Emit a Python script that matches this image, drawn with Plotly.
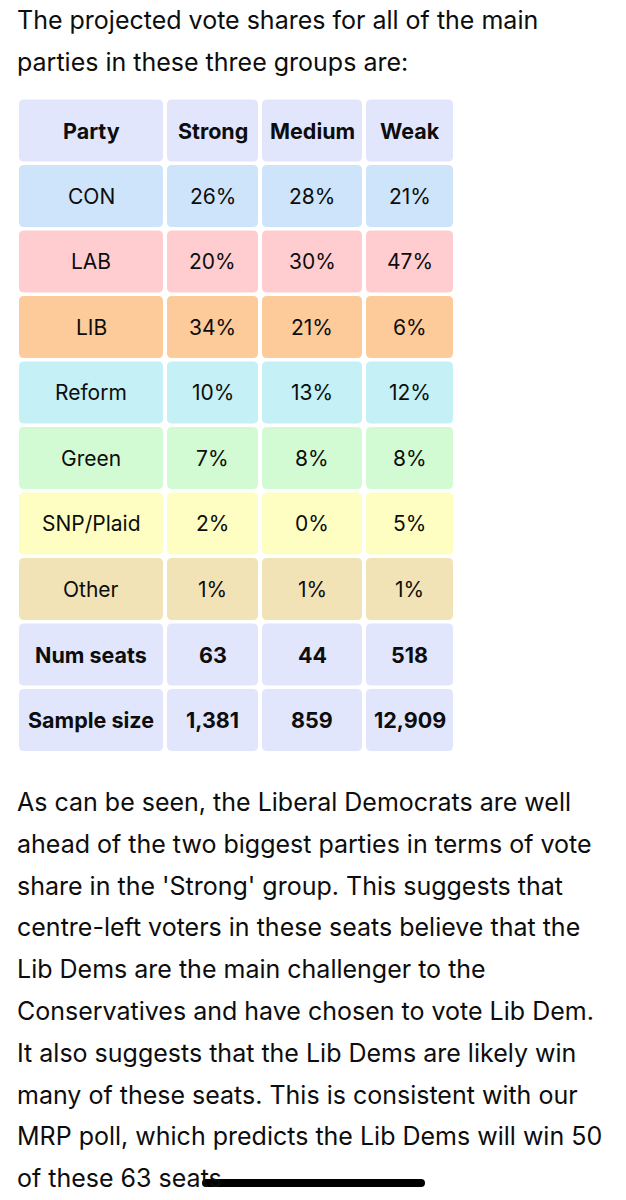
import plotly.graph_objects as go

# table content
header = ["Party", "Strong", "Medium", "Weak"]
parties = ["CON", "LAB", "LIB", "Reform", "Green", "SNP/Plaid", "Other"]
strong = ["26%", "20%", "34%", "10%", "7%", "2%", "1%"]
medium = ["28%", "30%", "21%", "13%", "8%", "0%", "1%"]
weak = ["21%", "47%", "6%", "12%", "8%", "5%", "1%"]
num_seats = ["Num seats", "63", "44", "518"]
sample_size = ["Sample size", "1,381", "859", "12,909"]
party_colors = ["#cde4fb", "#ffcdcf", "#fdca9a", "#c4f0f6", "#d3fbd3", "#fefec3", "#f2e3b6"]
header_color = "#e1e6fc"

intro_lines = [
    "The projected vote shares for all of the main",
    "parties in these three groups are:",
]
body_lines = [
    "As can be seen, the Liberal Democrats are well",
    "ahead of the two biggest parties in terms of vote",
    "share in the 'Strong' group. This suggests that",
    "centre-left voters in these seats believe that the",
    "Lib Dems are the main challenger to the",
    "Conservatives and have chosen to vote Lib Dem.",
    "It also suggests that the Lib Dems are likely win",
    "many of these seats. This is consistent with our",
    "MRP poll, which predicts the Lib Dems will win 50",
    "of these 63 seats",
]

FONT = "Inter"
W, H = 626, 1200
col_x = [(19, 163), (167, 258), (262, 362), (366, 453)]
row_top, row_pitch, row_h = 99.5, 65.5, 62


def rounded_rect(x0, y0, x1, y1, r=5):
    return (f"M{x0 + r},{y0} L{x1 - r},{y0} Q{x1},{y0} {x1},{y0 + r} "
            f"L{x1},{y1 - r} Q{x1},{y1} {x1 - r},{y1} L{x0 + r},{y1} "
            f"Q{x0},{y1} {x0},{y1 - r} L{x0},{y0 + r} Q{x0},{y0} {x0 + r},{y0} Z")


rows = [(header, header_color, True)]
for i, p in enumerate(parties):
    rows.append(([p, strong[i], medium[i], weak[i]], party_colors[i], False))
rows.append((num_seats, header_color, True))
rows.append((sample_size, header_color, True))

shapes, annotations = [], []
for r, (cells, color, bold) in enumerate(rows):
    y0 = row_top + r * row_pitch
    y1 = y0 + row_h
    for c, txt in enumerate(cells):
        x0, x1 = col_x[c]
        shapes.append(dict(type="path", path=rounded_rect(x0, y0, x1, y1),
                           fillcolor=color, line=dict(width=0), layer="below"))
        annotations.append(dict(
            x=(x0 + x1) / 2, y=(y0 + y1) / 2, text=f"<b>{txt}</b>" if bold else txt,
            showarrow=False, xanchor="center", yanchor="middle",
            font=dict(family=FONT, size=21.5 if bold else 21, color="#0d0d0d"),
        ))

for i, line in enumerate(intro_lines):
    annotations.append(dict(x=15, y=20 + i * 42, text=line, showarrow=False,
                            xanchor="left", yanchor="middle",
                            font=dict(family=FONT, size=25, color="#0d0d0d")))
for i, line in enumerate(body_lines):
    annotations.append(dict(x=15, y=802 + i * 41.8, text=line, showarrow=False,
                            xanchor="left", yanchor="middle",
                            font=dict(family=FONT, size=25, color="#0d0d0d")))

# home indicator bar
shapes.append(dict(type="path", path=rounded_rect(202, 1179, 425, 1187, r=4),
                   fillcolor="#000000", line=dict(width=0), layer="above"))

fig = go.Figure()
fig.update_layout(
    width=W, height=H, margin=dict(l=0, r=0, t=0, b=0),
    paper_bgcolor="white", plot_bgcolor="white",
    xaxis=dict(range=[0, W], visible=False, fixedrange=True),
    yaxis=dict(range=[H, 0], visible=False, fixedrange=True),
    shapes=shapes, annotations=annotations, showlegend=False,
)
# drop the default 8px page margin so the figure fills the window
fig.write_html("out.html", config={"displayModeBar": False},
               post_script="document.body.style.margin = '0';")
